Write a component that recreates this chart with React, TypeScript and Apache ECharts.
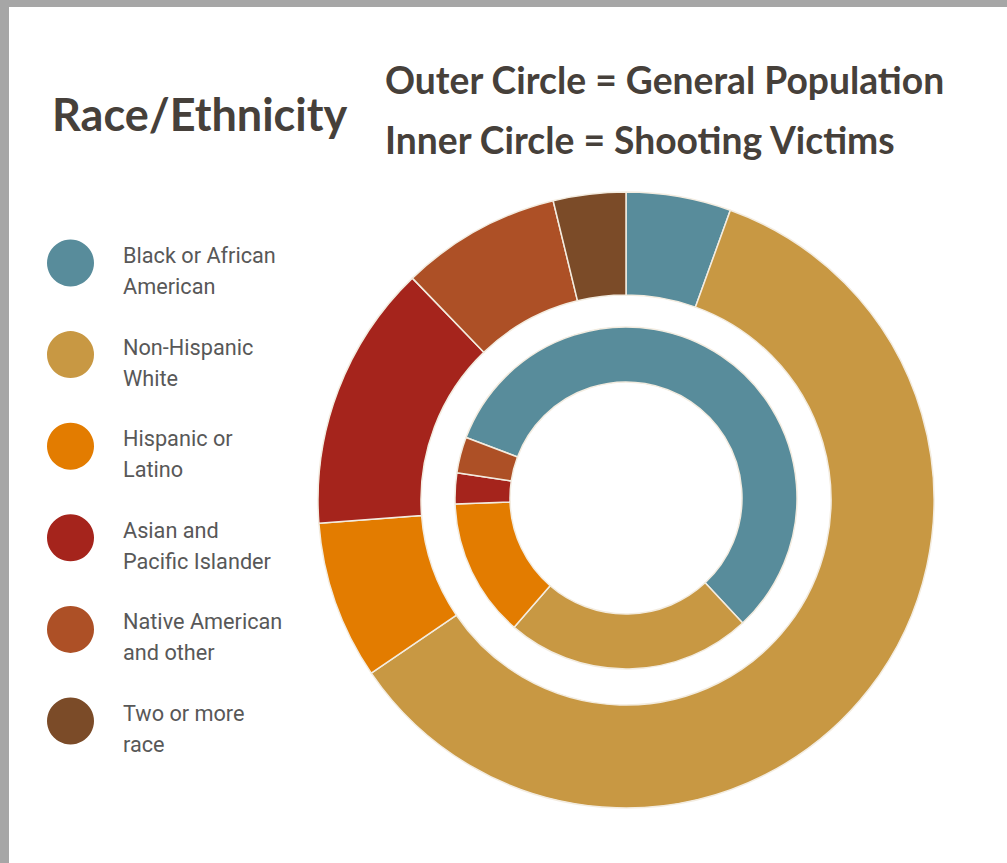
import React, { useEffect, useRef } from "react";
import * as echarts from "echarts";

const categories = [
  "Black or African American",
  "Non-Hispanic White",
  "Hispanic or Latino",
  "Asian and Pacific Islander",
  "Native American and other",
  "Two or more race",
];
const legendLabels = [
  "Black or African\nAmerican",
  "Non-Hispanic\nWhite",
  "Hispanic or\nLatino",
  "Asian and\nPacific Islander",
  "Native American\nand other",
  "Two or more\nrace",
];
const colors = ["#588c9b", "#c89843", "#e37c00", "#a5241c", "#ad5026", "#7b4b28"];
// Outer circle = general population (%)
const generalPopulation = [5.5, 60.0, 8.3, 14.0, 8.4, 3.8];
// Inner circle = shooting victims (%)
const shootingVictims = [57.3, 23.3, 13.1, 2.9, 3.4, 0];

const titleText = "Race/Ethnicity";
const subtitleLines = ["Outer Circle = General Population", "Inner Circle = Shooting Victims"];

export default function App() {
  const ref = useRef<HTMLDivElement>(null);
  useEffect(() => {
    if (!ref.current) return;
    const chart = echarts.init(ref.current, null, { renderer: "svg" });
    const headFont = "Lato, 'Open Sans', sans-serif";
    const border = { borderColor: "#f3ece0", borderWidth: 1.5 };
    const mk = (vals: number[]) =>
      vals
        .map((v, i) => ({ name: categories[i], value: v, itemStyle: { color: colors[i] } }))
        .filter((d) => d.value > 0);
    chart.setOption({
      animation: false,
      backgroundColor: "#ffffff",
      color: colors,
      legend: [
        {
          // colour dots
          orient: "vertical",
          left: 47,
          top: 239.5,
          height: 620,
          padding: 0,
          icon: "circle",
          itemWidth: 47,
          itemHeight: 47,
          itemGap: 44.6,
          selectedMode: false,
          itemStyle: { borderWidth: 0 },
          data: categories,
          formatter: () => "",
          textStyle: { fontSize: 1, padding: 0 },
        },
        {
          // two-line labels
          orient: "vertical",
          left: 118,
          top: 240,
          height: 620,
          padding: 0,
          icon: "circle",
          itemWidth: 0,
          itemHeight: 0,
          itemGap: 29.6,
          selectedMode: false,
          itemStyle: { borderWidth: 0, opacity: 0 },
          data: categories,
          formatter: (name: string) => legendLabels[categories.indexOf(name)],
          textStyle: {
            fontFamily: "Roboto, sans-serif",
            fontSize: 21.7,
            lineHeight: 31,
            color: "#585858",
          },
        },
      ],
      graphic: [
        { type: "rect", left: 0, top: 0, shape: { width: 1007, height: 7 }, style: { fill: "#a6a6a6" }, silent: true },
        { type: "rect", left: 0, top: 0, shape: { width: 9, height: 863 }, style: { fill: "#a6a6a6" }, silent: true },
        {
          type: "text",
          x: 52,
          y: 114,
          style: {
            text: titleText,
            fontFamily: headFont,
            fontWeight: "bold",
            fontSize: 45,
            fill: "#46403a",
            verticalAlign: "middle",
          },
        },
        ...subtitleLines.map((t, i) => ({
          type: "text",
          x: 385,
          y: 79 + i * 60,
          scaleX: 0.955,
          style: {
            text: t,
            fontFamily: headFont,
            fontWeight: "bold",
            fontSize: 39,
            fill: "#46403a",
            verticalAlign: "middle",
          },
        })),
      ],
      series: [
        {
          type: "pie",
          name: "General Population",
          center: [626, 500],
          radius: [205, 308],
          startAngle: 90,
          clockwise: true,
          label: { show: false },
          labelLine: { show: false },
          emphasis: { disabled: true },
          itemStyle: border,
          data: mk(generalPopulation),
        },
        {
          type: "pie",
          name: "Shooting Victims",
          center: [626, 498],
          radius: [116, 171],
          startAngle: 159.3,
          clockwise: true,
          label: { show: false },
          labelLine: { show: false },
          emphasis: { disabled: true },
          itemStyle: border,
          data: mk(shootingVictims),
        },
      ],
    });
    return () => chart.dispose();
  }, []);
  return (
    <div
      ref={ref}
      style={{ position: "fixed", left: 0, top: 0, width: 1007, height: 863 }}
    />
  );
}
